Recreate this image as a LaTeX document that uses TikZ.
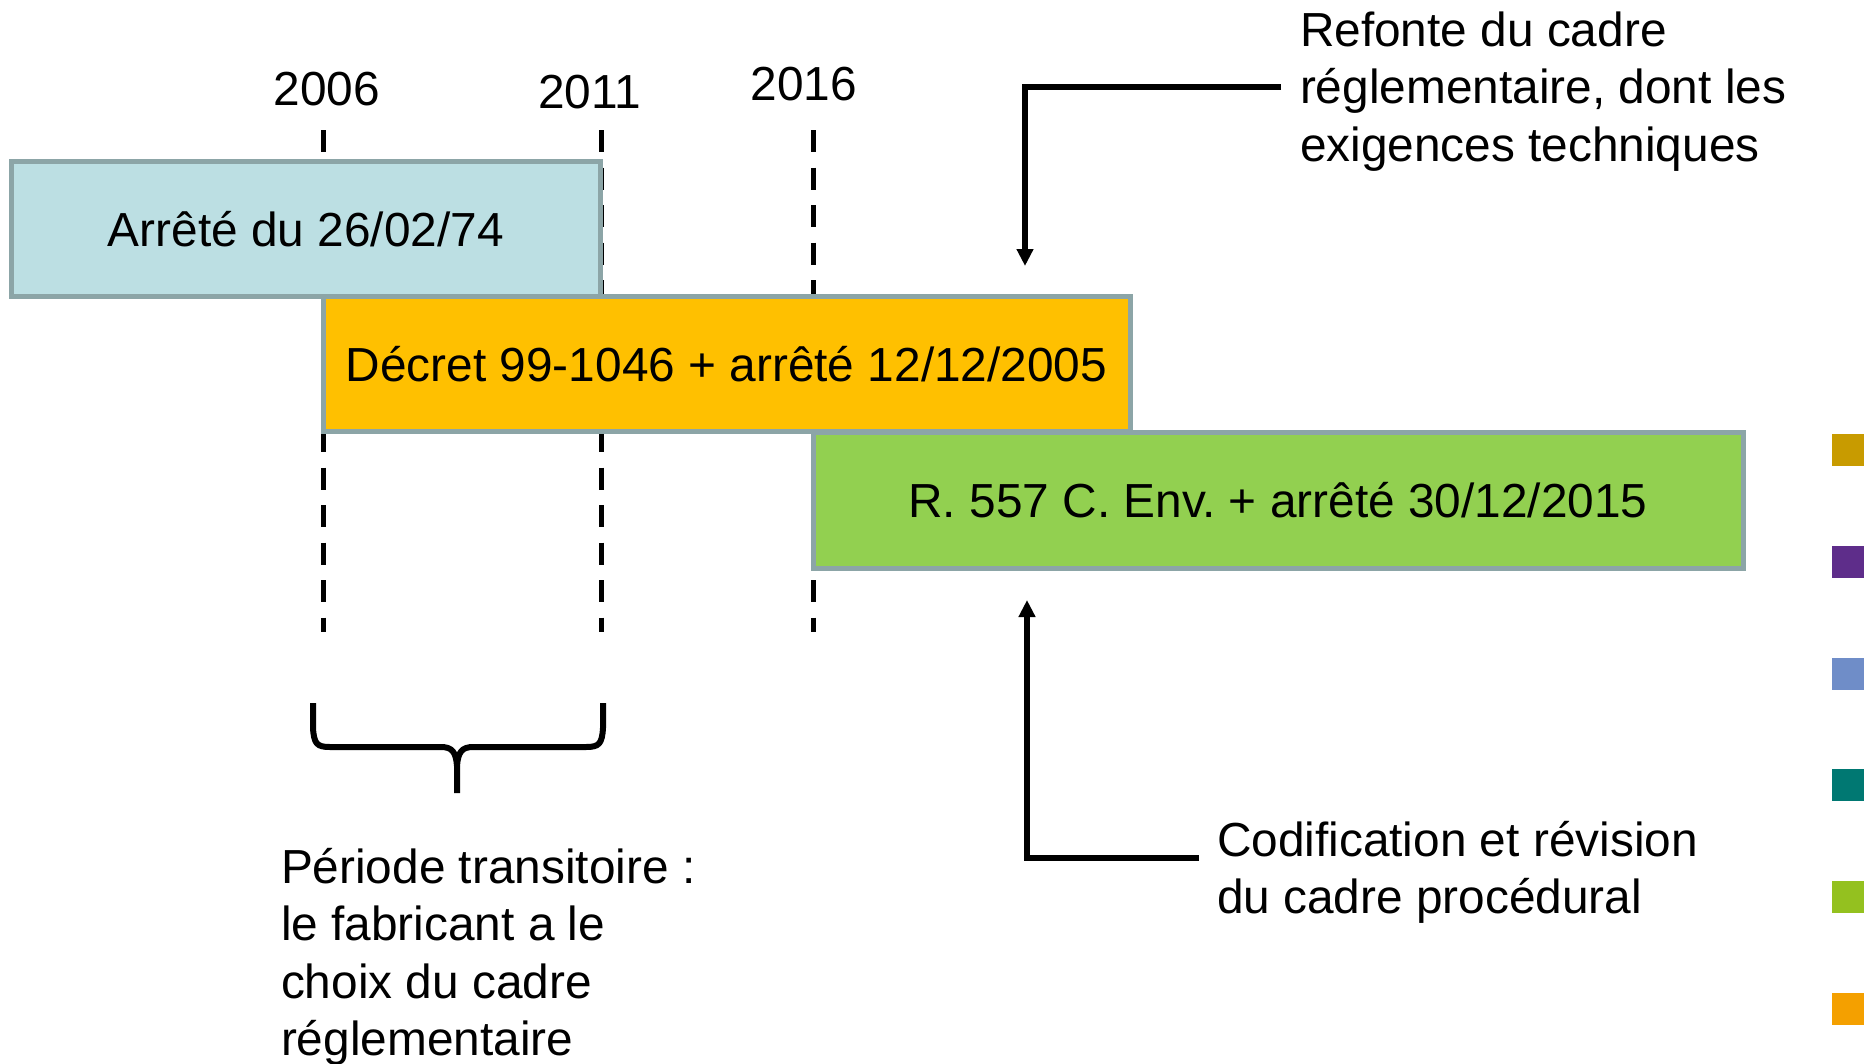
\documentclass[tikz,border=0pt]{standalone}
\usepackage{fontspec}
\setmainfont{Liberation Sans}
\usetikzlibrary{arrows.meta}
\definecolor{barline}{HTML}{8CA5A7}
\definecolor{bluefill}{HTML}{BCDFE3}
\definecolor{orangefill}{HTML}{FFC000}
\definecolor{greenfill}{HTML}{92D050}
\definecolor{lgA}{HTML}{C89B00}
\definecolor{lgB}{HTML}{5E2D8A}
\definecolor{lgC}{HTML}{6F8DC8}
\definecolor{lgD}{HTML}{007872}
\definecolor{lgE}{HTML}{94C11F}
\definecolor{lgF}{HTML}{F4A000}
\frenchspacing
\begin{document}
\begin{tikzpicture}[x=1pt,y=-1pt,
  every node/.style={font=\fontsize{47.8}{57.5}\selectfont, inner sep=0pt, outer sep=0pt},
  bar/.style={draw=barline, line width=5pt, minimum height=135pt},
  vline/.style={line width=5pt, dash pattern=on 22pt off 15.5pt},
  arr/.style={line width=5.5pt, -{Triangle[length=17pt,width=16pt]}},
  yearlab/.style={anchor=base},
  note/.style={anchor=base west, align=left},
  leg/.style={minimum width=32pt, minimum height=32pt, anchor=north west}
]
\useasboundingbox (0,0) rectangle (1870,1063);

% dashed year lines
\coordinate (d1t) at (323,130); \coordinate (d1b) at (323,632);
\coordinate (d2t) at (601,130); \coordinate (d2b) at (601,632);
\coordinate (d3t) at (813,130); \coordinate (d3b) at (813,632);
\draw[vline] (d1t) -- (d1b);
\draw[vline] (d2t) -- (d2b);
\draw[vline] (d3t) -- (d3b);

% year labels
\node[yearlab] (y1) at (327,105) {2006};
\node[yearlab] (y2) at (589.5,108) {2011};
\node[yearlab] (y3) at (804,100.5) {2016};

% bars
\node[bar, fill=bluefill, minimum width=589.5pt] (b1) at (305.75,229) {Arrêté du 26/02/74};
\node[bar, fill=orangefill, minimum width=807pt] (b2) at (726.5,364) {Décret 99-1046 + arrêté 12/12/2005};
\node[bar, fill=greenfill, minimum width=930pt, minimum height=136pt] (b3) at (1278,500) {R. 557 C. Env. + arrêté 30/12/2015};

% notes (anchor = baseline of the last line)
\node[note] (n1) at (1300,161) {Refonte du cadre\\réglementaire, dont les\\exigences techniques};
\node[note] (n2) at (1217,913.5) {Codification et révision\\du cadre procédural};
\node[note] (n3) at (281,1055.5) {Période transitoire :\\le fabricant a le\\choix du cadre\\réglementaire};

% arrows
\coordinate (s1) at (1281,87);
\coordinate (t1) at (1025,266);
\draw[arr] (s1) -| (t1);
\coordinate (s2) at (1199,858);
\coordinate (t2) at (1027,600);
\draw[arr] (s2) -| (t2);

% brace
\coordinate (brL) at (313,703);
\coordinate (brR) at (603,703);
\coordinate (brT) at (457,793);
\draw[line width=6pt, line join=round]
  (brL) -- (313,728) .. controls (314,744) and (317,747) .. (330,747)
  -- (441,747) .. controls (452,747) and (456,752) .. (457,766) -- (brT);
\draw[line width=6pt, line join=round]
  (brR) -- (603,728) .. controls (602,744) and (599,747) .. (586,747)
  -- (473,747) .. controls (462,747) and (458,752) .. (457,766);

% legend squares
\node[leg, fill=lgA] (l1) at (1832,434) {};
\node[leg, fill=lgB] (l2) at (1832,546) {};
\node[leg, fill=lgC] (l3) at (1832,658) {};
\node[leg, fill=lgD] (l4) at (1832,769) {};
\node[leg, fill=lgE] (l5) at (1832,881) {};
\node[leg, fill=lgF] (l6) at (1832,993) {};
\end{tikzpicture}
\end{document}
